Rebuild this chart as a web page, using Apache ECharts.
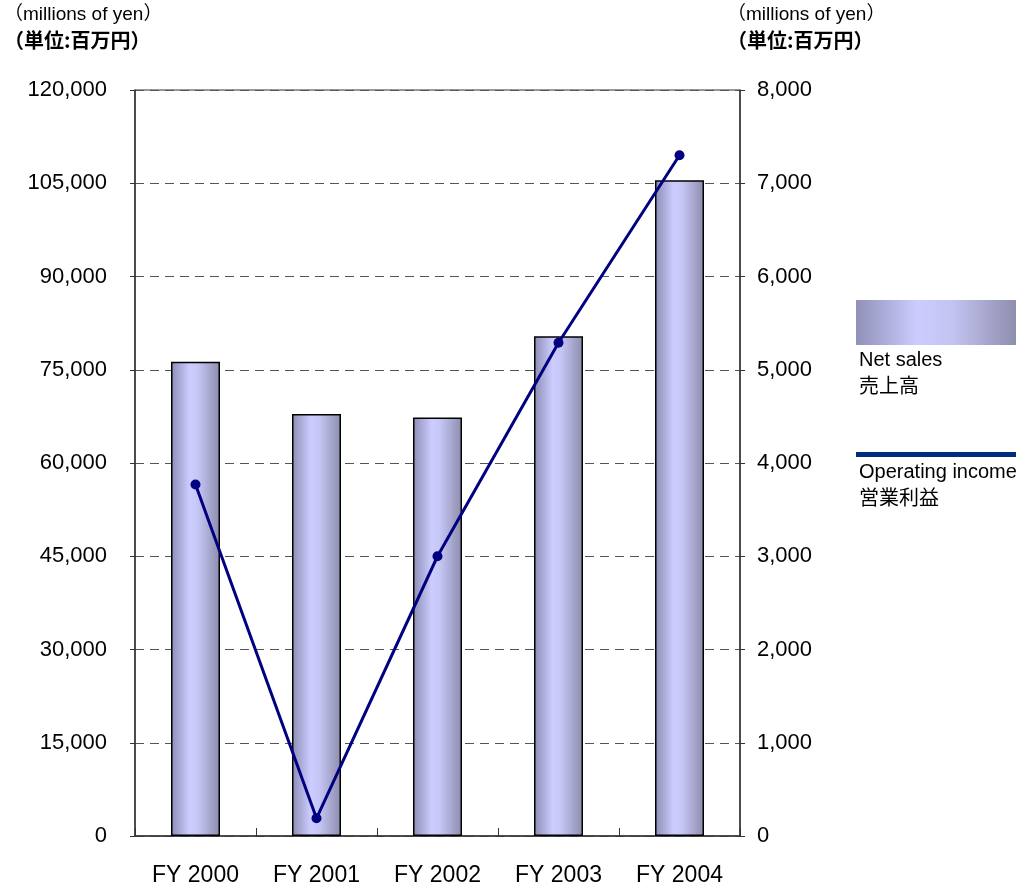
<!DOCTYPE html>
<html><head><meta charset="utf-8">
<script src="https://cdn.jsdelivr.net/npm/echarts@6/dist/echarts.min.js"></script>
<style>html,body{margin:0;padding:0;background:#fff}#c{width:1030px;height:888px}</style>
</head><body><div id="c"></div>
<script>
const categories = ['FY 2000','FY 2001','FY 2002','FY 2003','FY 2004'];
const netSales = [76300, 67900, 67300, 80400, 105500];
const operatingIncome = [3770, 190, 3000, 5290, 7300];
const leftTicks = {min:0, max:120000, interval:15000};
const rightTicks = {min:0, max:8000, interval:1000};
const unitEn = '（millions of yen）';
const unitJa = '（単位:百万円）';
const legendSales = ['Net sales','売上高'];
const legendIncome = ['Operating income','営業利益'];

const FONT = '"Liberation Sans", "Noto Sans CJK JP", sans-serif';
const JFONT = '"Noto Sans CJK JP", sans-serif';
const barGrad = new echarts.graphic.LinearGradient(0,0,1,0,[
  {offset:0,color:'#8c8cb4'},{offset:0.38,color:'#ccccff'},{offset:0.55,color:'#c6c6f6'},{offset:1,color:'#8c8cac'}]);
const legGrad = new echarts.graphic.LinearGradient(0,0,1,0,[
  {offset:0,color:'#9090b8'},{offset:0.38,color:'#ccccff'},{offset:0.6,color:'#c4c4f2'},{offset:1,color:'#8e8eae'}]);

const chart = echarts.init(document.getElementById('c'));
const yLabelFont = {fontFamily: FONT, fontSize: 22, color:'#000'};
chart.setOption({
  animation:false,
  grid:{left:135, right:290, top:90, bottom:52, show:true, borderColor:'#333', borderWidth:1},
  xAxis:{type:'category', data:categories,
    axisLine:{lineStyle:{color:'#333', width:1.5}},
    axisTick:{show:true, inside:true, length:8, alignWithLabel:false, lineStyle:{color:'#333'}},
    axisLabel:{fontFamily: FONT, fontSize: 23, color:'#000', margin:28}},
  yAxis:[
    {type:'value', ...leftTicks, position:'left',
     axisLine:{show:true, lineStyle:{color:'#333', width:1.5}},
     axisTick:{show:true, length:5, lineStyle:{color:'#333'}},
     axisLabel:{...yLabelFont, margin:28, formatter:v=>v.toLocaleString('en-US')},
     splitLine:{show:true, lineStyle:{type:[9,6], color:'#555', width:1}}},
    {type:'value', ...rightTicks, position:'right',
     axisLine:{show:true, lineStyle:{color:'#333', width:1.5}},
     axisTick:{show:true, length:5, lineStyle:{color:'#333'}},
     axisLabel:{...yLabelFont, margin:17, formatter:v=>v.toLocaleString('en-US')},
     splitLine:{show:false}}
  ],
  series:[
    {type:'bar', data:netSales, yAxisIndex:0, barWidth:49,
     itemStyle:{color:barGrad, borderColor:'#000', borderWidth:1.5}},
    {type:'line', data:operatingIncome, yAxisIndex:1, symbol:'circle', symbolSize:10,
     lineStyle:{color:'#000080', width:3}, itemStyle:{color:'#000080'}, z:5}
  ],
  graphic:[
    {type:'text', left:4, top:5, style:{text:unitEn, font:'19px '+FONT, fill:'#000'}},
    {type:'text', left:4, top:30, style:{text:unitJa, font:'bold 20px '+JFONT, fill:'#000'}},
    {type:'text', left:727, top:5, style:{text:unitEn, font:'19px '+FONT, fill:'#000'}},
    {type:'text', left:727, top:30, style:{text:unitJa, font:'bold 20px '+JFONT, fill:'#000'}},
    {type:'rect', shape:{x:856, y:300, width:160, height:45}, style:{fill:legGrad}},
    {type:'text', left:859, top:347, style:{text:legendSales.join('\n'), font:'20px '+FONT, lineHeight:27, fill:'#000'}},
    {type:'rect', shape:{x:856, y:452, width:160, height:5}, style:{fill:'#002c80'}},
    {type:'text', left:859, top:459, style:{text:legendIncome.join('\n'), font:'20px '+FONT, lineHeight:27, fill:'#000'}}
  ]
});
</script></body></html>
